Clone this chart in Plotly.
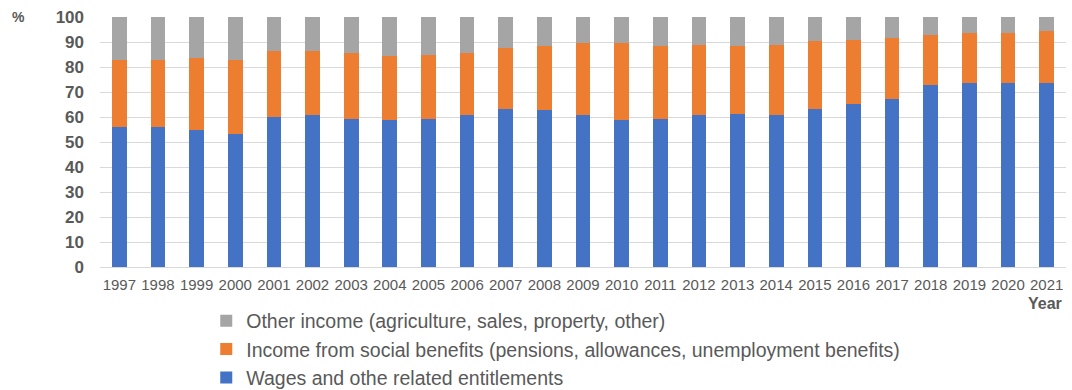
import plotly.graph_objects as go

years = [str(y) for y in range(1997, 2022)]

# Shares of household income, % (stacked to 100)
wages = [56, 56, 54.7, 53.3, 60, 60.7, 59.3, 58.7, 59.3, 60.7, 63.3, 62.7, 60.7,
         58.7, 59.3, 60.7, 61.3, 60.7, 63.3, 65.3, 67.3, 72.7, 73.5, 73.5, 73.5]
benefits_top = [83, 83, 83.7, 83, 86.3, 86.3, 85.6, 84.3, 85, 85.6, 87.6, 88.4, 89.6,
                89.6, 88.4, 89, 88.4, 89, 90.3, 91, 91.7, 93, 93.7, 93.7, 94.4]
benefits = [round(t - w, 1) for t, w in zip(benefits_top, wages)]
other = [round(100 - t, 1) for t in benefits_top]

names = [
    "Wages and othe related entitlements",
    "Income from social benefits (pensions, allowances, unemployment benefits)",
    "Other income (agriculture, sales, property, other)",
]
colors = ["#4472C4", "#ED7D31", "#A5A5A5"]

font_family = "Liberation Sans, Arial, sans-serif"
text_color = "#595959"

fig = go.Figure()
for name, vals, col in zip(names, [wages, benefits, other], colors):
    fig.add_trace(go.Bar(x=years, y=vals, name=name, marker_color=col,
                         marker_line_width=0, legendgroup=name))

fig.update_layout(
    barmode="stack",
    bargap=0.62,
    width=1072, height=390,
    margin=dict(l=100, r=6, t=17, b=123, autoexpand=False),
    plot_bgcolor="white", paper_bgcolor="white",
    font=dict(family=font_family, color=text_color),
    legend=dict(
        orientation="v", traceorder="reversed",
        x=0.11, xanchor="left", y=-0.138, yanchor="top",
        font=dict(size=19.5, color=text_color),
        tracegroupgap=7, itemwidth=30,
    ),
    showlegend=True,
)
fig.update_xaxes(
    tickfont=dict(size=15, color=text_color),
    showline=True, linecolor="#d9d9d9", ticks="", showgrid=False,
    ticklabelstandoff=4,
)
fig.update_yaxes(
    range=[0, 100], dtick=10,
    tickfont=dict(size=17, color=text_color, weight="bold"),
    gridcolor="#d9d9d9", gridwidth=1, zeroline=False,
    ticklabelstandoff=15,
)
fig.add_annotation(text="%", xref="paper", yref="paper", x=-0.084, y=1.0,
                   xanchor="center", yanchor="middle", showarrow=False,
                   font=dict(size=14, color=text_color, weight="bold"))
fig.add_annotation(text="Year", xref="paper", yref="paper", x=0.978, y=-0.144,
                   xanchor="center", yanchor="middle", showarrow=False,
                   font=dict(size=16, color=text_color, weight="bold"))

fig.write_html("out.html")
